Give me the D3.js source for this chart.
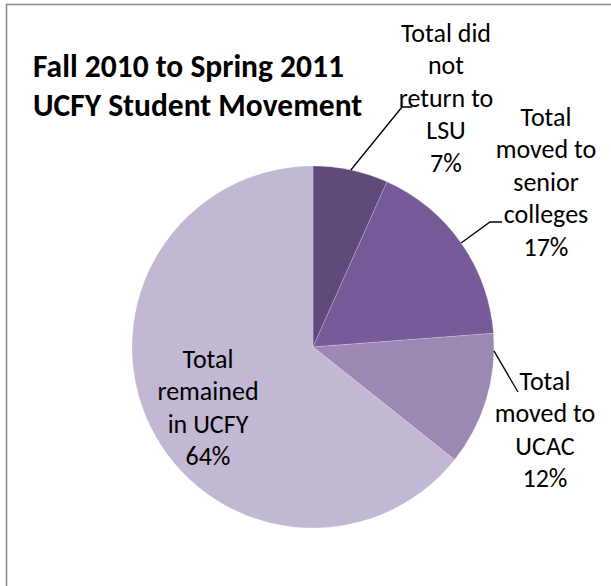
<!DOCTYPE html>
<html><head><meta charset="utf-8">
<script src="https://cdn.jsdelivr.net/npm/d3@7"></script>
<style>body{margin:0;background:#fff}</style>
</head><body><svg id="c" width="611" height="586"></svg>
<script>
const categories = ["Total did not return to LSU", "Total moved to senior colleges", "Total moved to UCAC", "Total remained in UCFY"];
const values = [6.7, 17.1, 11.9, 64.3];
const percentLabels = ["7%", "17%", "12%", "64%"];
const labelLines = [["Total did", "not", "return to", "LSU"], ["Total", "moved to", "senior", "colleges"], ["Total", "moved to", "UCAC"], ["Total", "remained", "in UCFY"]];
const colors = ["#604A7B", "#775B99", "#9B88B5", "#C3B8D3"];
const titleLines = ["Fall 2010 to Spring 2011", "UCFY Student Movement"];

const svg = d3.select("#c");
const W = 611, H = 586;
const FONT = "Carlito, Lato, sans-serif";

// chart border
svg.append("rect").attr("x", 6.5).attr("y", 4.5).attr("width", W).attr("height", H)
  .attr("fill", "#fff").attr("stroke", "#898989").attr("stroke-width", 1.5);

// title
const title = svg.append("text").attr("font-family", FONT).attr("font-weight", "bold")
  .attr("font-size", 31.5).attr("fill", "#000");
titleLines.forEach((t, i) => title.append("tspan").attr("x", 33).attr("y", 77 + i * 39).text(t));

// pie
const cx = 313, cy = 347, R = 181;
const data = categories.map((c, i) => ({ name: c, value: values[i], pct: percentLabels[i], lines: labelLines[i], color: colors[i] }));
const pie = d3.pie().sort(null).value(d => d.value);
const arcs = pie(data);
const arc = d3.arc().innerRadius(0).outerRadius(R);
const g = svg.append("g").attr("transform", `translate(${cx},${cy})`);
g.selectAll("path").data(arcs).join("path")
  .attr("d", arc).attr("fill", d => d.data.color)
  .attr("stroke", "#fff").attr("stroke-width", 0.4).attr("stroke-opacity", 0.5);

// label layout (Excel-style placement)
const layout = [
  { x: 446, y: 42, leader: [[412, 107], [402, 107]], angleFrac: 0.5 },
  { x: 546, y: 126, leader: [[502, 222], [490, 222]], angleFrac: 0.5 },
  { x: 545, y: 390, leader: [[518, 392]], angleFrac: 0.13 },
  { x: 208, y: 368, leader: null }
];
const LH = 32.4;
arcs.forEach((a, i) => {
  const L = layout[i];
  const t = svg.append("text").attr("font-family", FONT).attr("font-size", 26)
    .attr("fill", "#000").attr("text-anchor", "middle");
  a.data.lines.concat([a.data.pct]).forEach((s, j) =>
    t.append("tspan").attr("x", L.x).attr("y", L.y + j * LH).text(s));
  if (L.leader) {
    const ang = a.startAngle + (a.endAngle - a.startAngle) * L.angleFrac;
    const p = d3.pointRadial(ang, R);
    const pts = L.leader.concat([[cx + p[0], cy + p[1]]]);
    svg.append("path").attr("d", d3.line()(pts)).attr("fill", "none")
      .attr("stroke", "#000").attr("stroke-width", 1.3);
  }
});
</script></body></html>
